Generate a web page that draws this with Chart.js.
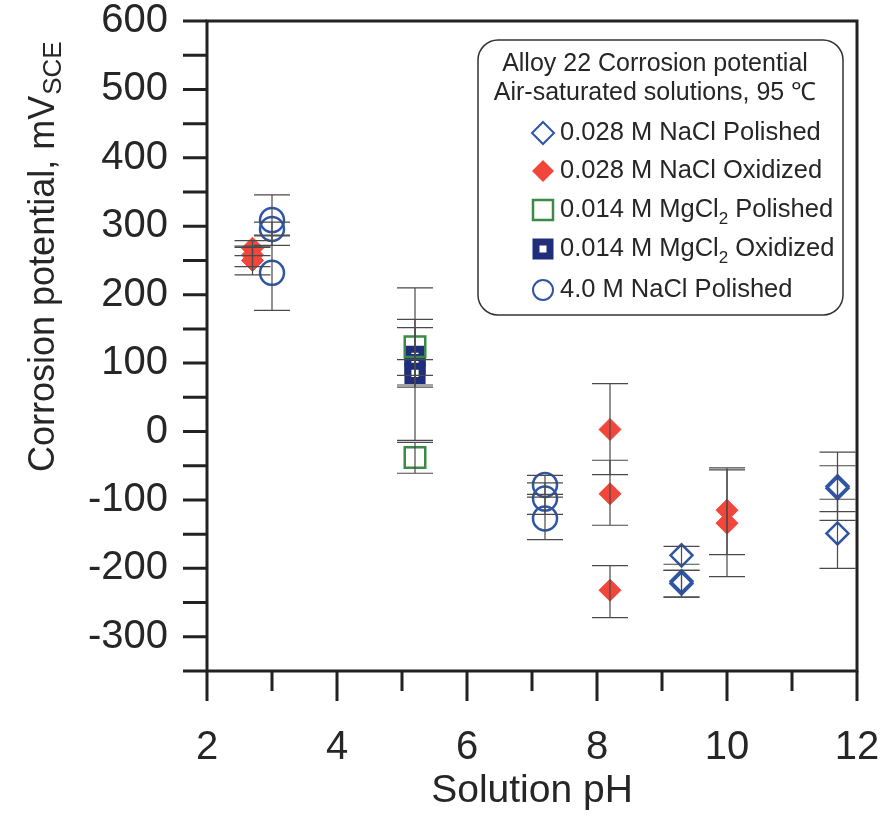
<!DOCTYPE html>
<html>
<head>
<meta charset="utf-8">
<script src="https://cdn.jsdelivr.net/npm/chart.js@4.4.1/dist/chart.umd.min.js"></script>
<style>
  body { margin: 0; background: #fff; }
</style>
</head>
<body>
<canvas id="chart" width="893" height="815"></canvas>
<script>
// values (pH, mV vs SCE, error bar up / down)
const naclPolPH = [9.3, 9.3, 9.3, 11.7, 11.7, 11.7]
const naclPolMV = [-181, -219, -222, -80, -83, -149]
const naclPolUp = [13, 16, 19, 50, 33, 50]
const naclPolDown = [13, 23, 20, 50, 34, 51]

const naclOxPH = [2.7, 2.7, 2.7, 8.2, 8.2, 8.2, 10, 10]
const naclOxMV = [268, 258, 250, 3, -91, -232, -115, -134]
const naclOxUp = [11, 11, 21, 67, 49, 36, 62, 78]
const naclOxDown = [11, 17, 21, 66, 46, 40, 65, 78]

const mgPolPH = [5.2, 5.2]
const mgPolMV = [124, -38]
const mgPolUp = [40, 22]
const mgPolDown = [42, 23]

const mgOxPH = [5.2, 5.2, 5.2]
const mgOxMV = [110, 98, 85]
const mgOxUp = [42, 112, 20]
const mgOxDown = [42, 111, 20]

const nacl4PH = [3.0, 3.0, 3.0, 7.2, 7.2, 7.2]
const nacl4MV = [309, 296, 232, -78, -98, -127]
const nacl4Up = [37, 10, 55, 14, 23, 31]
const nacl4Down = [37, 10, 55, 14, 23, 31]

const xTickLabels = [2, 4, 6, 8, 10, 12]
const yTickLabels = [-300, -200, -100, 0, 100, 200, 300, 400, 500, 600]

const legendTitle = ['Alloy 22 Corrosion potential', 'Air-saturated solutions, 95 \u2103']

const BLUE = '#2f55a4'
const NAVY = '#1f2d7b'
const RED = '#f2463a'
const GREEN = '#3b8a45'
const TEXT = '#262626'
const FONT = '"Liberation Sans", Arial, sans-serif'

function pts(xs, ys) {
  return xs.map((x, i) => ({ x: x, y: ys[i] }))
}

const errors = [
  [naclPolUp, naclPolDown],
  [naclOxUp, naclOxDown],
  [mgPolUp, mgPolDown],
  [mgOxUp, mgOxDown],
  [nacl4Up, nacl4Down]
]

const chartData = {
  datasets: [{
    label: '0.028 M NaCl Polished',
    data: pts(naclPolPH, naclPolMV),
    pointStyle: 'rectRot',
    pointRadius: 11,
    borderColor: BLUE,
    backgroundColor: 'rgba(0,0,0,0)',
    pointBorderWidth: 2.5
  },
  {
    label: '0.028 M NaCl Oxidized',
    data: pts(naclOxPH, naclOxMV),
    pointStyle: 'rectRot',
    pointRadius: 11,
    borderColor: RED,
    backgroundColor: RED,
    pointBorderWidth: 1
  },
  {
    label: '0.014 M MgCl2 Polished',
    data: pts(mgPolPH, mgPolMV),
    pointStyle: 'rect',
    pointRadius: 14.5,
    borderColor: GREEN,
    backgroundColor: 'rgba(0,0,0,0)',
    pointBorderWidth: 2.5
  },
  {
    label: '0.014 M MgCl2 Oxidized',
    data: pts(mgOxPH, mgOxMV),
    pointStyle: 'rect',
    pointRadius: 10,
    borderColor: NAVY,
    backgroundColor: '#ffffff',
    pointBorderWidth: 7
  },
  {
    label: '4.0 M NaCl Polished',
    data: pts(nacl4PH, nacl4MV),
    pointStyle: 'circle',
    pointRadius: 12,
    borderColor: BLUE,
    backgroundColor: 'rgba(0,0,0,0)',
    pointBorderWidth: 2.5
  }]
}

// frame, tick marks and error bars
const framePlugin = {
  id: 'frame',
  afterDatasetsDraw(chart) {
    const ctx = chart.ctx
    const a = chart.chartArea
    const xs = chart.scales.x
    const ys = chart.scales.y
    ctx.save()

    // error bars
    ctx.strokeStyle = '#4a4a4a'
    ctx.lineWidth = 1.2
    chart.data.datasets.forEach((ds, i) => {
      const meta = chart.getDatasetMeta(i)
      const up = errors[i][0]
      const down = errors[i][1]
      ds.data.forEach((p, j) => {
        const px = meta.data[j].x
        const top = ys.getPixelForValue(p.y + up[j])
        const bot = ys.getPixelForValue(p.y - down[j])
        ctx.beginPath()
        ctx.moveTo(px, top)
        ctx.lineTo(px, bot)
        ctx.moveTo(px - 18, top)
        ctx.lineTo(px + 18, top)
        ctx.moveTo(px - 18, bot)
        ctx.lineTo(px + 18, bot)
        ctx.stroke()
      })
    })

    // box
    ctx.strokeStyle = '#222'
    ctx.lineWidth = 3
    ctx.strokeRect(a.left, a.top, a.right - a.left, a.bottom - a.top)

    // y ticks every 50
    ctx.beginPath()
    for (let v = -350; v <= 600; v += 50) {
      const py = ys.getPixelForValue(v)
      ctx.moveTo(a.left - 24, py)
      ctx.lineTo(a.left, py)
    }
    // x ticks every 1, longer at even values
    for (let v = 2; v <= 12; v++) {
      const px = xs.getPixelForValue(v)
      ctx.moveTo(px, a.bottom)
      ctx.lineTo(px, a.bottom + (v % 2 === 0 ? 30 : 20))
    }
    ctx.stroke()

    // y axis title with subscript
    ctx.fillStyle = TEXT
    ctx.translate(54, 472)
    ctx.rotate(-Math.PI / 2)
    ctx.textAlign = 'left'
    ctx.textBaseline = 'alphabetic'
    ctx.font = '36px ' + FONT
    const main = 'Corrosion potential, mV'
    ctx.fillText(main, 0, 0)
    const w = ctx.measureText(main).width
    ctx.font = '26px ' + FONT
    ctx.fillText('SCE', w + 1, 7)
    ctx.restore()
  }
}

function drawMarker(ctx, idx, x, y) {
  ctx.save()
  ctx.beginPath()
  if (idx === 0 || idx === 1) {
    ctx.moveTo(x, y - 11)
    ctx.lineTo(x + 11, y)
    ctx.lineTo(x, y + 11)
    ctx.lineTo(x - 11, y)
    ctx.closePath()
    if (idx === 1) {
      ctx.fillStyle = RED
      ctx.fill()
    } else {
      ctx.strokeStyle = BLUE
      ctx.lineWidth = 2
      ctx.stroke()
    }
  } else if (idx === 2) {
    ctx.strokeStyle = GREEN
    ctx.lineWidth = 2.5
    ctx.strokeRect(x - 10, y - 10, 20, 20)
  } else if (idx === 3) {
    ctx.strokeStyle = NAVY
    ctx.lineWidth = 7
    ctx.fillStyle = '#fff'
    ctx.fillRect(x - 7, y - 7, 14, 14)
    ctx.strokeRect(x - 7, y - 7, 14, 14)
  } else {
    ctx.strokeStyle = BLUE
    ctx.lineWidth = 2
    ctx.arc(x, y, 10, 0, Math.PI * 2)
    ctx.stroke()
  }
  ctx.restore()
}

// boxed legend with title
const legendPlugin = {
  id: 'boxLegend',
  afterDraw(chart) {
    const ctx = chart.ctx
    ctx.save()
    ctx.fillStyle = '#fff'
    ctx.strokeStyle = '#333'
    ctx.lineWidth = 1.5
    ctx.beginPath()
    ctx.roundRect(478, 40, 365, 275, 20)
    ctx.fill()
    ctx.stroke()

    ctx.fillStyle = TEXT
    ctx.font = '25px ' + FONT
    ctx.textAlign = 'center'
    ctx.textBaseline = 'middle'
    ctx.fillText(legendTitle[0], 655, 64)
    ctx.fillText(legendTitle[1], 655, 93)

    const rows = [133, 171, 210, 249, 290]
    ctx.textAlign = 'left'
    chart.data.datasets.forEach((ds, i) => {
      const y = rows[i]
      drawMarker(ctx, i, 543, y)
      ctx.font = '25.5px ' + FONT
      const parts = ds.label.split('MgCl2')
      if (parts.length === 2) {
        let x = 560
        ctx.fillText(parts[0] + 'MgCl', x, y)
        x += ctx.measureText(parts[0] + 'MgCl').width
        ctx.font = '17px ' + FONT
        ctx.fillText('2', x, y + 9)
        x += ctx.measureText('2').width
        ctx.font = '25.5px ' + FONT
        ctx.fillText(parts[1], x, y)
      } else {
        ctx.fillText(ds.label, 560, y)
      }
    })
    ctx.restore()
  }
}

const chartConfig = {
  type: 'scatter',
  data: chartData,
  options: {
    responsive: false,
    animation: false,
    layout: {
      padding: { top: 21, right: 36, left: 0, bottom: 0 }
    },
    scales: {
      x: {
        type: 'linear',
        min: 2,
        max: 12,
        grid: { display: false },
        border: { display: false },
        afterBuildTicks: (scale) => {
          scale.ticks = xTickLabels.map(v => ({ value: v }))
        },
        afterFit: (scale) => {
          scale.height = 144
          scale.paddingLeft = 0
          scale.paddingRight = 0
        },
        ticks: {
          color: TEXT,
          padding: 45,
          maxRotation: 0,
          font: { family: FONT, size: 40 }
        },
        title: {
          display: true,
          text: 'Solution pH',
          color: TEXT,
          padding: { top: 0, bottom: 0 },
          font: { family: FONT, size: 39 }
        }
      },
      y: {
        type: 'linear',
        min: -350,
        max: 600,
        grid: { display: false },
        border: { display: false },
        afterBuildTicks: (scale) => {
          scale.ticks = yTickLabels.map(v => ({ value: v }))
        },
        afterFit: (scale) => {
          scale.width = 207
          scale.paddingTop = 0
          scale.paddingBottom = 0
        },
        ticks: {
          color: TEXT,
          padding: 31,
          font: { family: FONT, size: 40 }
        }
      }
    },
    plugins: {
      legend: { display: false },
      tooltip: { enabled: false }
    }
  },
  plugins: [framePlugin, legendPlugin]
}

const chartElement = document.getElementById('chart').getContext('2d')
const chart = new Chart(chartElement, chartConfig)
</script>
</body>
</html>
